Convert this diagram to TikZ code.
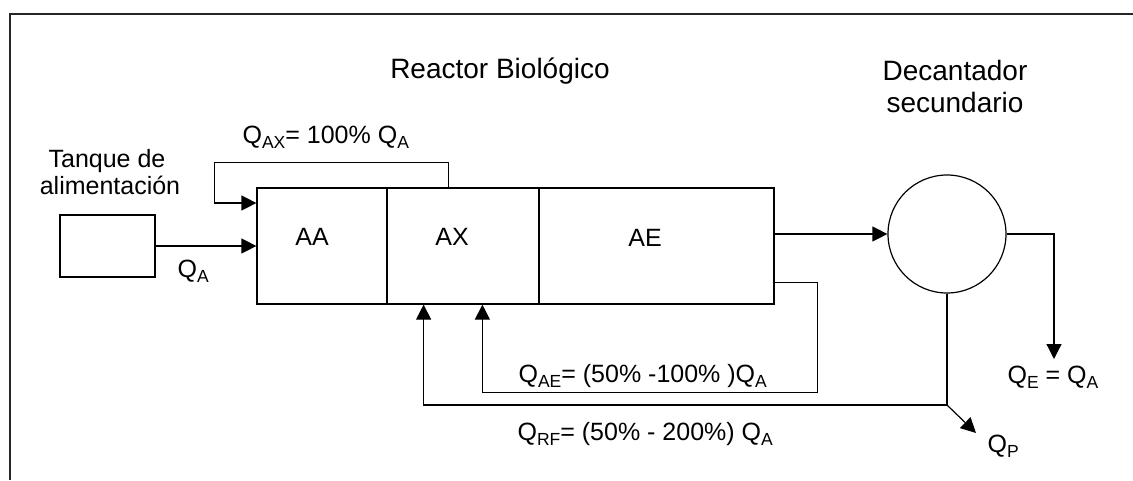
\documentclass[tikz,border=0pt]{standalone}
\usepackage{fontspec}
\setmainfont{Liberation Sans}
\usetikzlibrary{arrows.meta,calc}
\newcommand\qsub[1]{\raisebox{-5pt}{\fontsize{17.5}{18}\selectfont #1}}
\begin{document}
\begin{tikzpicture}[x=1pt,y=-1pt,line width=1.2pt,
  box/.style={draw,inner sep=0pt,minimum height=116pt},
  lbl/.style={anchor=base,inner sep=0pt,font=\fontsize{25}{29}\selectfont},
  title/.style={anchor=base,inner sep=0pt,font=\fontsize{28}{32}\selectfont},
  qlbl/.style={anchor=base west,inner sep=0pt,font=\fontsize{25}{29}\selectfont},
  arr/.style={-{Triangle[length=15pt,width=15pt]}},
  frame/.style={line width=2pt,draw=black!85}]
\useasboundingbox (0,0) rectangle (1133,480);
\draw[frame] (1133,14) -- (10,14) -- (10,480);

% boxes
\node[draw,inner sep=0pt,minimum width=95pt,minimum height=62pt] (tank) at (107.5,246) {};
\node[box,minimum width=130pt] (AA) at (322,246) {};
\node[box,minimum width=152pt] (AX) at (463,246) {};
\node[box,minimum width=235pt] (AE) at (656.5,246) {};
\node[draw,circle,inner sep=0pt,minimum size=118pt] (dec) at (947,234) {};

% titles
\node[lbl] (t1) at (107,167) {Tanque de};
\node[lbl] (t2) at (110,194) {alimentación};
\node[title] (rb) at (500,78) {Reactor Biológico};
\node[title] (d1) at (955,80) {Decantador};
\node[title] (d2) at (955,112) {secundario};
\node[lbl] (lAA) at (312,245) {AA};
\node[lbl] (lAX) at (452,245) {AX};
\node[lbl] (lAE) at (645,246) {AE};

% flow labels
\node[qlbl] (qax) at (242,143) {Q\qsub{AX}= 100\% Q\qsub{A}};
\node[qlbl] (qa) at (177,277) {Q\qsub{A}};
\node[qlbl] (qae) at (518,382) {Q\qsub{AE}= (50\% -100\% )Q\qsub{A}};
\node[qlbl] (qrf) at (517,440) {Q\qsub{RF}= (50\% - 200\%) Q\qsub{A}};
\node[qlbl] (qe) at (1007,383) {Q\qsub{E} = Q\qsub{A}};
\node[qlbl] (qp) at (987,452) {Q\qsub{P}};

% connectors
\draw[arr] (tank.east) -- (AA.west);
\coordinate (axtop) at ($(AX.north west)+(62,0)$);
\draw[arr] (axtop) -- ++(0,-25) -| ($(AA.west)+(-42,-43)$) -- ($(AA.west)+(0,-43)$);
\draw[arr] (AE.east |- dec.west) -- (dec.west);
\coordinate (qeend) at (1054,359);
\draw[arr] (dec.east) -| (qeend);
\coordinate (aeout) at ($(AE.south east)+(0,-22)$);
\draw[arr] (aeout) -| ($(AE.south east)+(43,88)$) -| ($(AX.south west)+(96,0)$);
\coordinate (split) at (dec.south |- 0,405);
\draw[arr] (dec.south) -- (split) -| ($(AA.south east)+(36,0)$);
\coordinate (qpend) at (976,433);
\draw[arr] (split) -- (qpend);
\end{tikzpicture}
\end{document}
